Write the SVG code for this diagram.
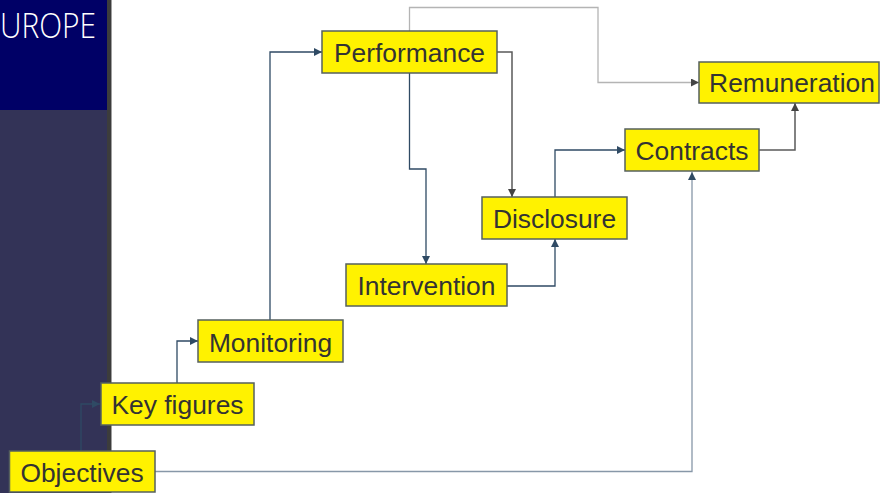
<svg xmlns="http://www.w3.org/2000/svg" width="880" height="493" viewBox="0 0 880 493">
  <style>
    .box { fill: #fff200; stroke: #56605e; stroke-width: 1.5; }
    .lbl { font-family: "Liberation Sans", Arial, sans-serif; font-size: 26.4px; fill: #333333; text-anchor: middle; }
    .ln { fill: none; stroke: #2f4a64; stroke-width: 1.3; }
    .ln-gray { fill: none; stroke: #5a5a5a; stroke-width: 1.5; }
    .ln-light { fill: none; stroke: #b4b4b4; stroke-width: 1.3; }
    .ln-soft { fill: none; stroke: #8797a8; stroke-width: 1.3; }
  </style>
  <defs>
    <marker id="arr" viewBox="0 0 10 10" refX="10" refY="5" markerWidth="8" markerHeight="8" markerUnits="userSpaceOnUse" orient="auto">
      <path d="M0,0 L10,5 L0,10 Z" fill="#2f4a64"/>
    </marker>
    <marker id="arr-gray" viewBox="0 0 10 10" refX="10" refY="5" markerWidth="8" markerHeight="8" markerUnits="userSpaceOnUse" orient="auto">
      <path d="M0,0 L10,5 L0,10 Z" fill="#444444"/>
    </marker>
  </defs>

  <!-- page background and left band -->
  <rect x="0" y="0" width="880" height="493" fill="#ffffff"/>
  <rect x="0" y="0" width="108" height="493" fill="#333357"/>
  <rect x="0" y="0" width="107" height="110" fill="#000066"/>
  <rect x="107" y="0" width="4" height="493" fill="#3c3c3c"/>
  <rect x="111" y="0" width="1" height="493" fill="#a0a0a0"/>
  <text x="96" y="38" text-anchor="end" font-family="'Open Sans', 'Liberation Sans', Arial, sans-serif" font-weight="300" font-size="34" fill="#ffffff" textLength="96" lengthAdjust="spacingAndGlyphs">UROPE</text>

  <!-- connectors -->
  <g id="connectors">
    <path class="ln-soft" d="M155,471.5 H692 V172" marker-end="url(#arr)"/>
    <path class="ln" d="M81,451 V404 H100" marker-end="url(#arr)"/>
    <path class="ln" d="M177,383 V341 H198" marker-end="url(#arr)"/>
    <path class="ln" d="M270,320 V52 H322" marker-end="url(#arr)"/>
    <path class="ln" d="M409.5,73 V169 H426 V264" marker-end="url(#arr)"/>
    <path class="ln-gray" d="M497,52 H512 V197" marker-end="url(#arr-gray)"/>
    <path class="ln" d="M507,286 H555 V239" marker-end="url(#arr)"/>
    <path class="ln" d="M555,197 V150 H625" marker-end="url(#arr)"/>
    <path class="ln-gray" d="M759,150 H795 V103" marker-end="url(#arr-gray)"/>
    <path class="ln-light" d="M409.5,31 V7.5 H598 V82.5 H699" marker-end="url(#arr-gray)"/>
  </g>

  <!-- nodes -->
  <g id="performance">
    <rect class="box" x="322" y="31" width="175" height="42"/>
    <text class="lbl" x="409.5" y="61.5">Performance</text>
  </g>
  <g id="remuneration">
    <rect class="box" x="699" y="62" width="180" height="41"/>
    <text class="lbl" x="792" y="92">Remuneration</text>
  </g>
  <g id="contracts">
    <rect class="box" x="625" y="129" width="134" height="42"/>
    <text class="lbl" x="692" y="159.5">Contracts</text>
  </g>
  <g id="disclosure">
    <rect class="box" x="482" y="197" width="145" height="42"/>
    <text class="lbl" x="554.5" y="227.5">Disclosure</text>
  </g>
  <g id="intervention">
    <rect class="box" x="346" y="264" width="161" height="42"/>
    <text class="lbl" x="426.5" y="294.5">Intervention</text>
  </g>
  <g id="monitoring">
    <rect class="box" x="198" y="320" width="145" height="42"/>
    <text class="lbl" x="270.5" y="351.5">Monitoring</text>
  </g>
  <g id="key-figures">
    <rect class="box" x="101" y="383" width="153" height="42"/>
    <text class="lbl" x="177.5" y="413.5">Key figures</text>
  </g>
  <g id="objectives">
    <rect class="box" x="9.5" y="451" width="145.5" height="41"/>
    <text class="lbl" x="82" y="481.5">Objectives</text>
  </g>
</svg>
